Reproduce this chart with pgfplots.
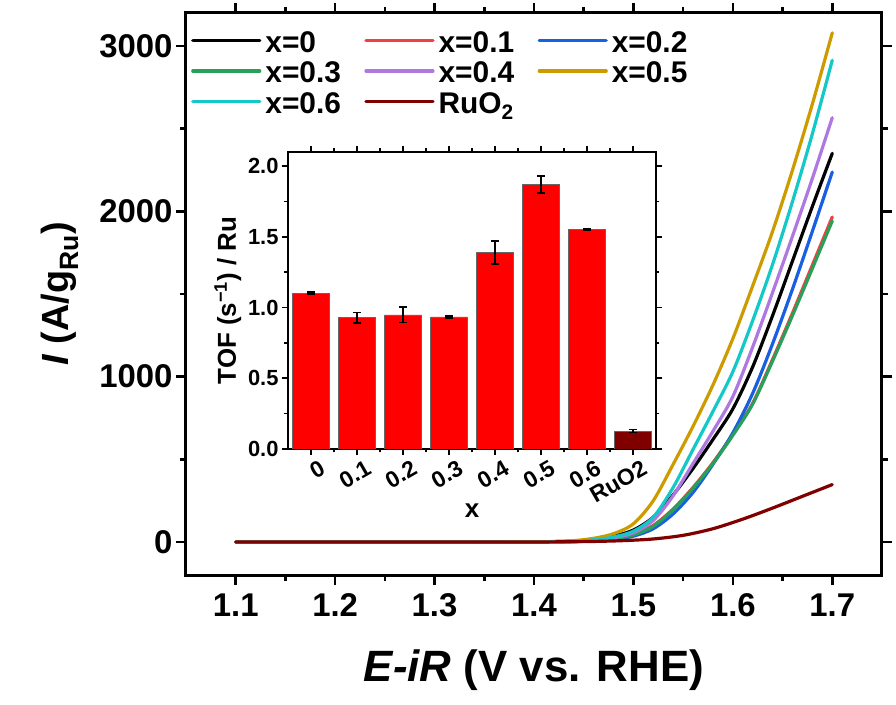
\documentclass[border=0pt]{standalone}
\usepackage{fontspec}
\setmainfont{Liberation Sans}
\usepackage{pgfplots}
\pgfplotsset{compat=1.18}
\definecolor{c0}{RGB}{0,0,0}
\definecolor{c1}{RGB}{240,64,64}
\definecolor{c2}{RGB}{25,95,225}
\definecolor{c3}{RGB}{40,160,90}
\definecolor{c4}{RGB}{175,120,225}
\definecolor{c5}{RGB}{205,155,0}
\definecolor{c6}{RGB}{20,200,200}
\definecolor{c7}{RGB}{128,0,0}
\definecolor{barred}{RGB}{255,0,0}
\definecolor{barruo}{RGB}{128,0,0}
\begin{document}
\begin{tikzpicture}
\useasboundingbox (-186bp,-130bp) rectangle (710bp,575bp);
\begin{axis}[
  at={(0,0)}, anchor=south west,
  width=696bp, height=562bp, scale only axis,
  xmin=1.05, xmax=1.75, ymin=-200, ymax=3200,
  xtick={1.1,1.2,1.3,1.4,1.5,1.6,1.7},
  ytick={0,1000,2000,3000},
  minor x tick num=1, minor y tick num=1,
  tick align=outside, tick pos=both,
  major tick length=10bp, minor tick length=6bp,
  tick style={line width=2.5bp, black},
  axis line style={line width=3bp},
  scaled y ticks=false,
  /pgf/number format/assume math mode=true,
  /pgf/number format/1000 sep={},
  tick label style={font=\fontsize{33}{38}\selectfont\bfseries},
  x tick label style={yshift=-5bp},
  label style={font=\fontsize{44}{50}\selectfont\bfseries},
  xlabel style={yshift=-26bp},
  ylabel style={yshift=14bp, font=\fontsize{38}{44}\selectfont\bfseries},
  xlabel={\textit{E-iR} (V vs. RHE)},
  ylabel={\textit{I} (A/g\textsubscript{Ru})},
  legend columns=3,
  legend style={draw=none, fill=none, at={(rel axis cs:0,1)}, anchor=north west,
    xshift=2bp, yshift=-10bp,
    font=\fontsize{30}{36}\selectfont\bfseries,
    column sep=0bp, row sep=0bp,
    nodes={inner xsep=4bp, inner ysep=2bp}},
  legend cell align=left,
  legend image code/.code={\draw[#1] (0bp,0bp) -- (67bp,0bp);},
  every axis plot/.append style={line width=3.2bp, line join=round, line cap=round, smooth, tension=0.5},
]
\addplot[c0] coordinates {(1.10,0)(1.20,0)(1.30,0)(1.40,1)(1.42,2)(1.44,5)(1.46,14)(1.48,35)(1.50,72)(1.52,150)(1.54,285)(1.56,445)(1.58,620)(1.60,805)(1.62,1060)(1.64,1370)(1.66,1700)(1.68,2030)(1.70,2351)};
\addlegendentry{\strut\makebox[95bp][l]{x=0}}
\addplot[c1] coordinates {(1.10,0)(1.20,0)(1.30,0)(1.40,0)(1.42,1)(1.44,3)(1.46,8)(1.48,20)(1.50,45)(1.52,100)(1.54,200)(1.56,330)(1.58,480)(1.60,650)(1.62,840)(1.64,1105)(1.66,1385)(1.68,1675)(1.70,1966)};
\addlegendentry{\strut\makebox[95bp][l]{x=0.1}}
\addplot[c2] coordinates {(1.10,0)(1.20,0)(1.30,0)(1.40,0)(1.42,1)(1.44,2)(1.46,6)(1.48,15)(1.50,35)(1.52,80)(1.54,170)(1.56,300)(1.58,470)(1.60,660)(1.62,900)(1.64,1200)(1.66,1530)(1.68,1880)(1.70,2238)};
\addlegendentry{\strut\makebox[95bp][l]{x=0.2}}
\addplot[c3] coordinates {(1.10,0)(1.20,0)(1.30,0)(1.40,0)(1.42,1)(1.44,3)(1.46,8)(1.48,19)(1.50,42)(1.52,95)(1.54,195)(1.56,325)(1.58,475)(1.60,645)(1.62,835)(1.64,1095)(1.66,1370)(1.68,1655)(1.70,1942)};
\addlegendentry{\strut\makebox[95bp][l]{x=0.3}}
\addplot[c4] coordinates {(1.10,0)(1.20,0)(1.30,0)(1.40,0)(1.42,1)(1.44,3)(1.46,10)(1.48,25)(1.50,55)(1.52,130)(1.54,280)(1.56,475)(1.58,670)(1.60,880)(1.62,1180)(1.64,1510)(1.66,1850)(1.68,2200)(1.70,2567)};
\addlegendentry{\strut\makebox[95bp][l]{x=0.4}}
\addplot[c5] coordinates {(1.10,0)(1.20,0)(1.30,0)(1.40,1)(1.42,3)(1.44,8)(1.46,22)(1.48,50)(1.50,110)(1.52,250)(1.54,470)(1.56,700)(1.58,950)(1.60,1230)(1.62,1550)(1.64,1880)(1.66,2250)(1.68,2650)(1.70,3080)};
\addlegendentry{\strut\makebox[95bp][l]{x=0.5}}
\addplot[c6] coordinates {(1.10,0)(1.20,0)(1.30,0)(1.40,0)(1.42,1)(1.44,4)(1.46,12)(1.48,30)(1.50,65)(1.52,150)(1.54,330)(1.56,560)(1.58,790)(1.60,1030)(1.62,1340)(1.64,1680)(1.66,2060)(1.68,2470)(1.70,2914)};
\addlegendentry{\strut\makebox[95bp][l]{x=0.6}}
\addplot[c7] coordinates {(1.10,0)(1.20,0)(1.30,0)(1.40,0)(1.43,1)(1.46,3)(1.49,8)(1.52,18)(1.55,40)(1.58,80)(1.61,138)(1.64,205)(1.67,276)(1.70,347)};
\addlegendentry{\strut\makebox[95bp][l]{RuO\textsubscript{2}}}
\end{axis}
\begin{axis}[
  at={(102bp,126bp)}, anchor=south west,
  width=368bp, height=297bp, scale only axis,
  xmin=-0.5, xmax=7.5, ymin=0, ymax=2.1,
  xtick={0,1,2,3,4,5,6,7},
  xticklabels={0,0.1,0.2,0.3,0.4,0.5,0.6,RuO2},
  ytick={0,0.5,1,1.5,2},
  minor x tick num=1, minor y tick num=1,
  tick align=outside, tick pos=both,
  major tick length=6bp, minor tick length=3.5bp,
  tick style={line width=1.6bp, black},
  axis line style={line width=1.8bp},
  axis background/.style={fill=white},
  /pgf/number format/assume math mode=true,
  yticklabel style={/pgf/number format/.cd, fixed, fixed zerofill, precision=1},
  tick label style={font=\fontsize{22}{26}\selectfont\bfseries},
  x tick label style={font=\fontsize{23}{27}\selectfont\bfseries, rotate=30, anchor=north east, xshift=8bp, yshift=-4bp},
  label style={font=\fontsize{26}{30}\selectfont\bfseries},
  xlabel style={yshift=8bp},
  xlabel={x},
  ylabel={TOF (s\textsuperscript{−1}) / Ru},
]
\addplot[ybar, bar width=0.8, bar shift=0pt, fill=barred, draw=black!60, line width=0.8bp,
  error bars/.cd, y dir=both, y explicit,
  error bar style={line width=1.5bp, black},
  error mark options={rotate=90, line width=1.5bp, black, mark size=4bp}]
  coordinates {(0,1.103) +- (0,0.008) (1,0.927) +- (0,0.037) (2,0.948) +- (0,0.055) (3,0.934) +- (0,0.006) (4,1.389) +- (0,0.082) (5,1.871) +- (0,0.06) (6,1.551) +- (0,0.004)};
\addplot[ybar, bar width=0.8, bar shift=0pt, fill=barruo, draw=black!60, line width=0.8bp,
  error bars/.cd, y dir=both, y explicit,
  error bar style={line width=1.5bp, black},
  error mark options={rotate=90, line width=1.5bp, black, mark size=4bp}]
  coordinates {(7,0.127) +- (0,0.012)};
\end{axis}
\end{tikzpicture}
\end{document}
